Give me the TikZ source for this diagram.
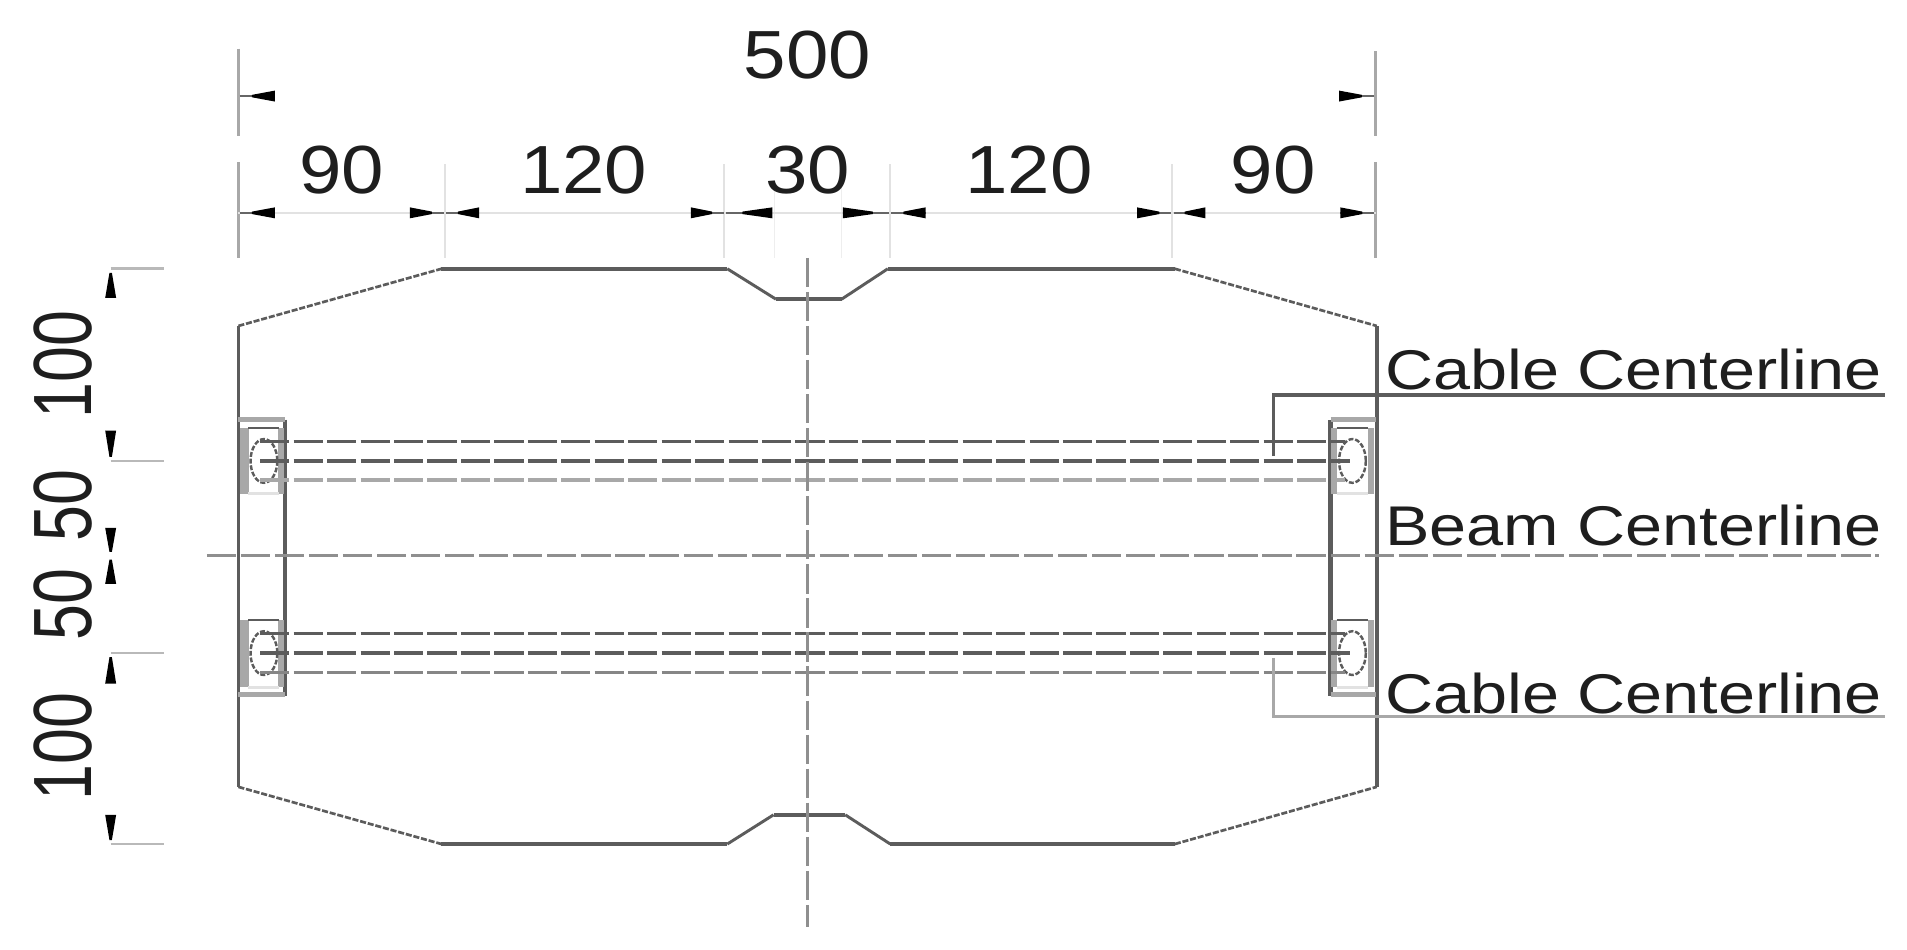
\documentclass[tikz,border=0pt]{standalone}
\usepackage{fontspec}
\usepackage{graphicx}
\setmainfont{Liberation Sans}
\definecolor{wallc}{HTML}{5C5C5C}
\definecolor{lightc}{HTML}{E2E2E2}
\definecolor{midc}{HTML}{A8A8A8}
\definecolor{inkc}{HTML}{1E1E1E}
\newcommand{\dimtxt}[1]{\fontsize{56}{60}\selectfont\scalebox{1.12}[1]{#1}}
\newcommand{\sidetxt}[1]{\fontsize{68}{72}\selectfont\scalebox{0.78}[1]{#1}}
\newcommand{\lbltxt}[1]{\fontsize{46}{50}\selectfont\scalebox{1.19}[1]{#1}}
\newcommand{\htip}[3]{% extension x, far x, y
  \draw[tipline] (#1,#3) -- (#2,#3);
  \fill[black] (#2,{#3-4.5}) -- (#2,{#3+4.5}) -- ({#1+(#2-#1)*0.35},{#3+1}) -- ({#1+(#2-#1)*0.35},{#3-1}) -- cycle;}
\newcommand{\vtip}[2]{% extension y, far y
  \fill[black] ({91-4.5},#2) -- ({91+4.5},#2) -- (92,{#1+(#2-#1)*0.1}) -- (90,{#1+(#2-#1)*0.1}) -- cycle;}
\tikzset{
  x=1pt,y=-1pt,
  outl/.style={draw=wallc,line width=3pt},
  thinl/.style={draw=wallc,line width=2.2pt,dash pattern=on 5pt off 1.5pt},
  extl/.style={draw=midc,line width=2pt},
  faint/.style={draw=lightc,line width=1.6pt},
  tipline/.style={draw=black!60,line width=1.2pt},
  tick/.style={draw=midc!80,line width=2.2pt},
  cabledash/.style={draw=wallc,line width=3pt,dash pattern=on 24pt off 3.5pt},
  cabledashb/.style={draw=midc,line width=3.2pt,dash pattern=on 24pt off 3.5pt},
  center/.style={draw=midc!85!black,line width=2.2pt,dash pattern=on 24pt off 4pt},
  txt/.style={inner sep=0pt,text=inkc,anchor=center}
}
\begin{document}
\begin{tikzpicture}
\useasboundingbox (0,0) rectangle (1568,780.4);
% extension and dimension lines
\draw[extl] (196,40) -- (196,112) (196,133) -- (196,212);
\draw[extl] (1131,42) -- (1131,112) (1131,133) -- (1131,212);
\draw[faint] (366,135) -- (366,212) (595,135) -- (595,212) (732,135) -- (732,212) (964,135) -- (964,212);
\draw[draw=lightc!60,line width=1pt] (637,150) -- (637,212) (692,150) -- (692,212);
\draw[faint] (196,175) -- (1131,175);
\draw[tick] (91,221) -- (135,221) (91,379) -- (135,379) (91,537) -- (135,537) (91,694) -- (135,694);
% horizontal dimension tips
\htip{197}{226}{79}
\htip{1130}{1101}{79}
\htip{197}{226}{175}
\htip{365}{337}{175}
\htip{367}{394}{175}
\htip{595}{568}{175}
\htip{597}{635}{175}
\htip{731}{693}{175}
\htip{733}{761}{175}
\htip{963}{935}{175}
\htip{965}{991}{175}
\htip{1130}{1102}{175}
% vertical dimension tips
\vtip{222}{245}
\vtip{378}{354}
\vtip{456}{434}
\vtip{458}{480}
\vtip{538}{562}
\vtip{693}{670}
% outline
\draw[outl,line width=3.6pt] (363,221) -- (598,221);
\draw[outl,line width=3.6pt] (730,221) -- (966,221);
\draw[outl,line width=3.6pt] (638,246) -- (692,246);
\draw[outl] (363,694) -- (598,694);
\draw[outl] (732,694) -- (966,694);
\draw[outl] (636,670) -- (695,670);
\draw[outl] (196,268) -- (196,647);
\draw[outl] (1132,268) -- (1132,647);
\draw[thinl] (196,268) -- (363,221);
\draw[thinl] (966,221) -- (1132,268);
\draw[thinl] (196,647) -- (363,694);
\draw[thinl] (966,694) -- (1132,647);
\draw[draw=wallc,line width=2.4pt] (598,221) -- (638,246) (692,246) -- (730,221) (598,694) -- (636,670) (695,670) -- (732,694);
% end plates
\draw[draw=wallc,line width=3.4pt] (234,345) -- (234,572);
\draw[draw=wallc,line width=3.4pt] (1094,345) -- (1094,572);
\draw[draw=midc,line width=4.5pt] (196,345) -- (234,345) (196,571) -- (234,571) (1094,345) -- (1131,345) (1094,571) -- (1131,571);
% anchor boxes
\draw[draw=midc,line width=7pt] (201,352) -- (201,406) (201,510) -- (201,565);
\draw[draw=midc,line width=5pt] (231,352) -- (231,406) (231,510) -- (231,565);
\draw[draw=midc,line width=5pt] (1097,352) -- (1097,406) (1097,510) -- (1097,565);
\draw[draw=midc,line width=5pt] (1127,352) -- (1127,406) (1127,510) -- (1127,565);
\foreach \xa/\xb/\xo in {204/229/217,1099/1125/1112}{
  \foreach \ya/\yb/\yo in {352/406/379,510/565/537}{
    \draw[draw=wallc,line width=2pt] (\xa,\ya) -- (\xb,\ya);
    \draw[draw=lightc,line width=2.4pt] (\xa,\yb) -- (\xb,\yb);
    \draw[draw=wallc,line width=2pt,dash pattern=on 4pt off 1.5pt] (\xo,\yo) ellipse [x radius=11,y radius=18];
  }
}
% cable lines
\draw[cabledash] (214,363) -- (1106,363);
\draw[cabledash] (214,379) -- (1110,379);
\draw[cabledashb] (214,395) -- (1106,395);
\draw[cabledash] (214,521) -- (1106,521);
\draw[cabledash] (214,537) -- (1110,537);
\draw[cabledashb,draw=midc!80!black,line width=2.6pt] (214,553) -- (1106,553);
% centrelines
\draw[center] (170,457) -- (1545,457);
\draw[center] (664,212) -- (664,762);
% leaders
\coordinate (lua) at (1047,375);
\coordinate (lub) at (1047,325);
\coordinate (luc) at (1550,325);
\coordinate (lla) at (1047,541);
\coordinate (llb) at (1047,589);
\coordinate (llc) at (1550,589);
\draw[draw=wallc,line width=3pt] (lua) -- (lub) -- (luc);
\draw[draw=midc,line width=3pt] (lla) -- (llb) -- (llc);
% texts
\node[txt] (t500) at (664,45) {\dimtxt{500}};
\node[txt] (t90a) at (281,140) {\dimtxt{90}};
\node[txt] (t120a) at (480,140) {\dimtxt{120}};
\node[txt] (t30) at (664,140) {\dimtxt{30}};
\node[txt] (t120b) at (846,140) {\dimtxt{120}};
\node[txt] (t90b) at (1047,140) {\dimtxt{90}};
\node[txt,rotate=90] (s100a) at (52,300) {\sidetxt{100}};
\node[txt,rotate=90] (s50a) at (52,416) {\sidetxt{50}};
\node[txt,rotate=90] (s50b) at (52,497) {\sidetxt{50}};
\node[txt,rotate=90] (s100b) at (52,614) {\sidetxt{100}};
\node[txt] (cab1) at (1343,304) {\lbltxt{Cable Centerline}};
\node[txt] (beam) at (1343,432) {\lbltxt{Beam Centerline}};
\node[txt] (cab2) at (1343,570) {\lbltxt{Cable Centerline}};
\end{tikzpicture}
\end{document}
